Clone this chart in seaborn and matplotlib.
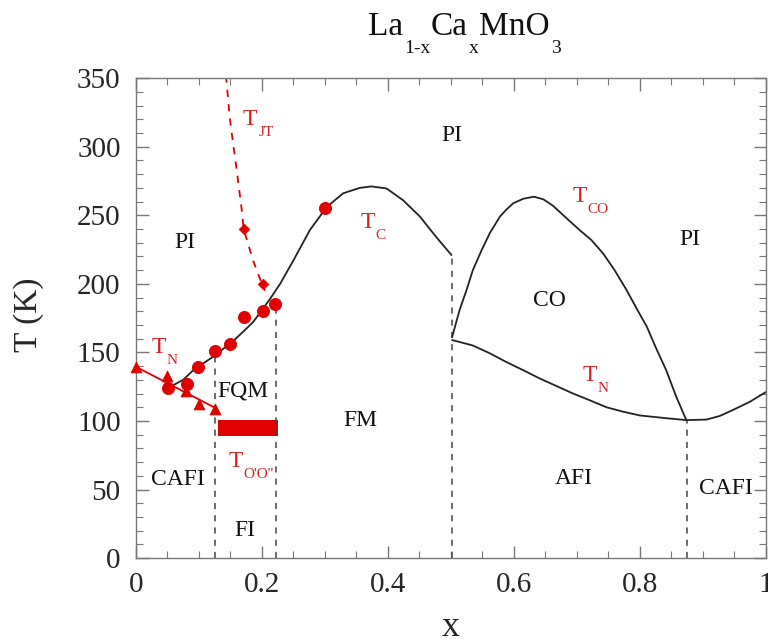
import matplotlib
matplotlib.use("Agg")
import matplotlib.pyplot as plt
import seaborn as sns

# data
tc_x = [0.059, 0.075, 0.091, 0.123, 0.154, 0.186, 0.213, 0.229, 0.25, 0.276, 0.303,
        0.329, 0.356, 0.374, 0.398, 0.424, 0.451, 0.477, 0.501]
tc_T = [126, 130, 137, 147, 158, 172, 189, 200, 217, 239, 256,
        266, 270, 271, 269.5, 261, 249, 234, 221]

tco_x = [0.502, 0.514, 0.525, 0.535, 0.549, 0.562, 0.578, 0.588, 0.599, 0.615, 0.632,
         0.647, 0.662, 0.684, 0.705, 0.723, 0.742, 0.76, 0.779, 0.795, 0.811, 0.826,
         0.842, 0.858, 0.874]
tco_T = [161, 181, 195.5, 210, 224.6, 237, 249, 254, 258.7, 262, 263.5,
         261.6, 257, 247.7, 239, 232, 222, 210, 195.5, 182, 169, 153,
         137, 117.6, 100.6]

tn_right_x = [0.502, 0.535, 0.562, 0.588, 0.615, 0.641, 0.668, 0.694, 0.721, 0.747,
              0.774, 0.80, 0.842, 0.874, 0.906, 0.927, 0.948, 0.975, 1.0]
tn_right_T = [159, 155, 149.3, 143, 137, 131, 125.4, 120, 115, 110,
              106.7, 104, 102, 100.6, 101, 103.6, 108, 114, 121]

tn_left_x = [0.0, 0.126]
tn_left_T = [139.5, 109.5]

tjt_x = [0.143, 0.149, 0.155, 0.16, 0.168, 0.171, 0.186, 0.20, 0.205]
tjt_T = [352, 321, 300, 283, 254, 240, 217, 200, 195]

circ_x = [0.051, 0.081, 0.098, 0.125, 0.149, 0.171, 0.202, 0.221, 0.301]
circ_T = [124, 127, 139, 151, 156, 176, 180, 185, 255]

tri_x = [0.0, 0.05, 0.08, 0.10, 0.125]
tri_T = [139, 133, 122, 112, 109]

dia_x = [0.171, 0.201]
dia_T = [240, 200]

bound_x = [0.125, 0.222, 0.502, 0.875]
bound_top = [150, 185, 221, 100]

bar_x = [0.13, 0.225]
bar_lo = [89, 89]
bar_hi = [101, 101]

region_labels = [
    ("PI", 0.078, 230), ("PI", 0.502, 308), ("PI", 0.879, 232),
    ("CO", 0.657, 188), ("FQM", 0.17, 122), ("FM", 0.356, 100),
    ("CAFI", 0.067, 57), ("FI", 0.173, 20), ("AFI", 0.695, 58),
    ("CAFI", 0.937, 51),
]

# temperature labels: (main, subscript, left x, baseline T)
temp_labels = [
    ("T", "N", 0.025, 149.3),
    ("T", "N", 0.709, 129.3),
    ("T", "CO", 0.693, 260),
    ("T", "C", 0.356, 240.5),
    ("T", "JT", 0.170, 315.8),
    ("T", "O'O''", 0.1465, 66.6),
]

title_parts = [("La", False), ("1-x", True), ("Ca", False), ("x", True),
               ("MnO", False), ("3", True)]

red = "#e00000"
text_red = "#d42020"

sns.set_style("ticks", {"xtick.direction": "in", "ytick.direction": "in",
                        "axes.edgecolor": "#777777"})
plt.rcParams['font.family'] = ['Liberation Serif', 'DejaVu Serif']

fig = plt.figure(figsize=(7.68, 6.4), dpi=100)
ax = fig.add_axes([0.177, 0.128, 0.82, 0.75])


def chain_text(x, y, parts, size, subsize, drop, color, transform):
    # write main text and lowered subscripts one after another
    prev = ax.text(x, y, parts[0][0], fontsize=size, color=color, transform=transform,
                   ha="left", va="baseline", clip_on=False)
    for txt, is_sub in parts[1:]:
        prev = ax.annotate(txt, xy=(1, y), xycoords=(prev, transform),
                           xytext=(0.6, -drop if is_sub else 0), textcoords="offset points",
                           fontsize=subsize if is_sub else size, color=color,
                           ha="left", va="baseline", annotation_clip=False)


ax.vlines(bound_x, 0, bound_top, colors="#444444", linestyles=(0, (4, 4)), linewidth=1.1)

sns.lineplot(x=tc_x, y=tc_T, sort=False, color="#222222", linewidth=1.3, ax=ax)
sns.lineplot(x=tco_x, y=tco_T, sort=False, color="#222222", linewidth=1.3, ax=ax)
sns.lineplot(x=tn_right_x, y=tn_right_T, sort=False, color="#222222", linewidth=1.3, ax=ax)
sns.lineplot(x=tn_left_x, y=tn_left_T, sort=False, color=red, linewidth=1.3, ax=ax)
sns.lineplot(x=tjt_x, y=tjt_T, sort=False, color=red, linewidth=1.3,
             linestyle=(0, (4, 4)), ax=ax)

ax.fill_between(bar_x, bar_lo, bar_hi, color=red, linewidth=0)

sns.scatterplot(x=circ_x, y=circ_T, marker="o", s=75, color=red, edgecolor=red,
                zorder=5, ax=ax, clip_on=False)
sns.scatterplot(x=tri_x, y=tri_T, marker="^", s=60, color=red, edgecolor=red,
                zorder=5, ax=ax, clip_on=False)
sns.scatterplot(x=dia_x, y=dia_T, marker="D", s=30, color=red, edgecolor=red,
                zorder=5, ax=ax)

for txt, lx, ly in region_labels:
    ax.text(lx, ly, txt, color="#111111", fontsize=17, ha="center", va="center")

for main, sub, lx, ly in temp_labels:
    chain_text(lx, ly, [(main, False), (sub, True)], 17, 11, 8, text_red, ax.transData)

chain_text(0.479, 0.945, title_parts, 24, 14, 13, "#111111", fig.transFigure)

ax.set_xlim(0, 1)
ax.set_ylim(0, 350)
ax.set_xticks([0, 0.2, 0.4, 0.6, 0.8, 1.0])
ax.set_xticklabels(["0", "0.2", "0.4", "0.6", "0.8", "1"])
ax.set_xticks([i * 0.05 for i in range(21)], minor=True)
ax.set_yticks(range(0, 351, 50))
ax.set_yticks(range(0, 351, 10), minor=True)
ax.tick_params(which="both", top=True, right=True, color="#777777")
ax.tick_params(which="major", length=9, width=1, labelsize=21)
ax.tick_params(axis="x", which="major", pad=10)
ax.tick_params(axis="y", which="major", pad=11)
ax.tick_params(which="minor", length=5, width=0.8)
for s in ax.spines.values():
    s.set_linewidth(1.0)

ax.set_xlabel("")
ax.set_ylabel("")
fig.text(28.5 / 768, 0.508, "T (K)", rotation=90, fontsize=24, ha="center", va="center")
fig.text(451 / 768, 1 - 627 / 640, "x", fontsize=26, ha="center", va="center")

fig.savefig("out.png", dpi=100)
